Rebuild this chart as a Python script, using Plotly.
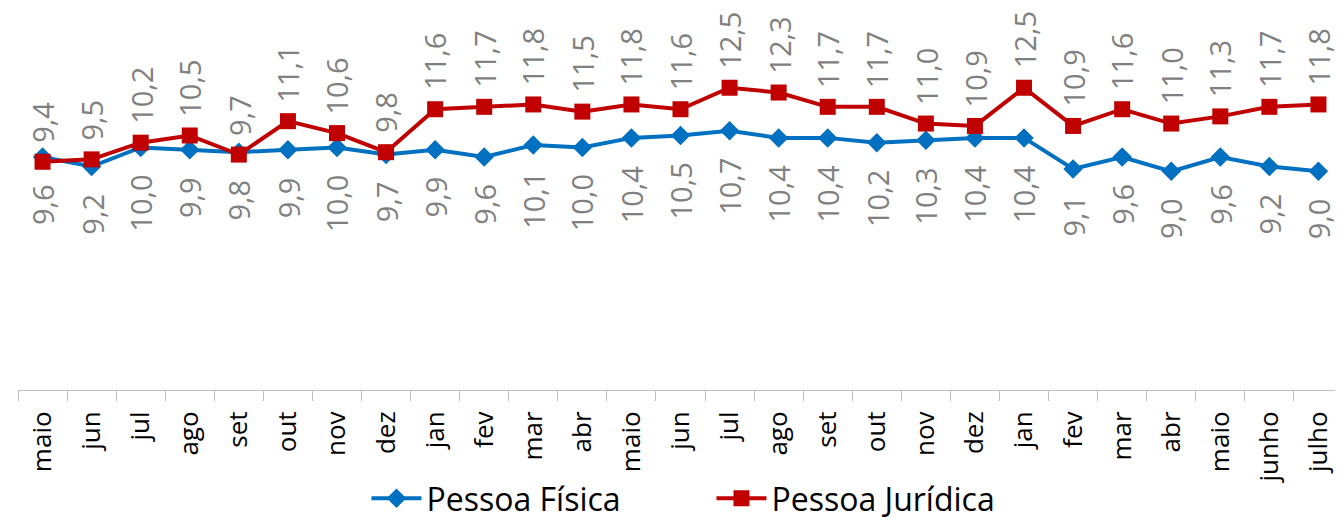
import plotly.graph_objects as go

months = ["maio", "jun", "jul", "ago", "set", "out", "nov", "dez", "jan", "fev",
          "mar", "abr", "maio", "jun", "jul", "ago", "set", "out", "nov", "dez",
          "jan", "fev", "mar", "abr", "maio", "junho", "julho"]

pessoa_fisica = [9.6, 9.2, 10.0, 9.9, 9.8, 9.9, 10.0, 9.7, 9.9, 9.6,
                 10.1, 10.0, 10.4, 10.5, 10.7, 10.4, 10.4, 10.2, 10.3, 10.4,
                 10.4, 9.1, 9.6, 9.0, 9.6, 9.2, 9.0]

pessoa_juridica = [9.4, 9.5, 10.2, 10.5, 9.7, 11.1, 10.6, 9.8, 11.6, 11.7,
                   11.8, 11.5, 11.8, 11.6, 12.5, 12.3, 11.7, 11.7, 11.0, 10.9,
                   12.5, 10.9, 11.6, 11.0, 11.3, 11.7, 11.8]

x = list(range(len(months)))

BLUE = "#0070C0"
RED = "#C00000"
LABEL_GRAY = "#808080"

fig = go.Figure()
fig.add_trace(go.Scatter(
    x=x, y=pessoa_fisica, name="Pessoa Física", mode="lines+markers",
    line=dict(color=BLUE, width=4),
    marker=dict(symbol="diamond", size=15, color=BLUE),
))
fig.add_trace(go.Scatter(
    x=x, y=pessoa_juridica, name="Pessoa Jurídica", mode="lines+markers",
    line=dict(color=RED, width=4),
    marker=dict(symbol="square", size=16, color=RED),
))

def fmt(v):
    return f"{v:.1f}".replace(".", ",")

annotations = []
for i, v in enumerate(pessoa_juridica):
    annotations.append(dict(
        x=i, y=v, xref="x", yref="y", text=fmt(v), showarrow=False,
        textangle=-90, yanchor="bottom", xanchor="center", yshift=17,
        font=dict(family="Open Sans", size=29, color=LABEL_GRAY),
    ))
for i, v in enumerate(pessoa_fisica):
    annotations.append(dict(
        x=i, y=v, xref="x", yref="y", text=fmt(v), showarrow=False,
        textangle=-90, yanchor="top", xanchor="center", yshift=-25,
        font=dict(family="Open Sans", size=29, color=LABEL_GRAY),
    ))

fig.update_layout(
    width=1335, height=518,
    margin=dict(l=10, r=0, t=0, b=128),
    plot_bgcolor="white", paper_bgcolor="white",
    showlegend=True,
    legend=dict(
        orientation="h", x=0.263, xanchor="left", y=-0.285, yanchor="middle",
        font=dict(family="Open Sans", size=32, color="black"),
        itemwidth=50, entrywidth=280, entrywidthmode="pixels",
        bgcolor="rgba(0,0,0,0)",
    ),
    annotations=annotations,
    xaxis=dict(
        range=[-0.5, len(months) - 0.5],
        tickmode="array", tickvals=x, ticktext=months,
        tickangle=-90,
        ticks="outside", ticklen=10, tickcolor="rgba(0,0,0,0)",
        tickfont=dict(family="Open Sans", size=26, color="black"),
        showline=True, linecolor="#BFBFBF", linewidth=1,
        showgrid=False, zeroline=False,
        minor=dict(
            tickmode="array", tickvals=[i - 0.5 for i in x],
            ticks="outside", ticklen=10, tickcolor="#BFBFBF", tickwidth=1,
            showgrid=False,
        ),
        fixedrange=True,
    ),
    yaxis=dict(
        range=[-0.16, 15.84], visible=False, showgrid=False, zeroline=False,
        fixedrange=True,
    ),
)

fig.write_html("out.html")
